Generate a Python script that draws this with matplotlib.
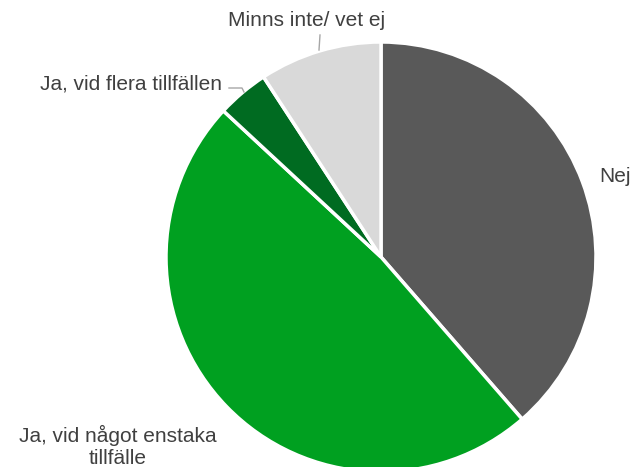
import matplotlib
matplotlib.use("Agg")
import matplotlib.pyplot as plt

categories = ["Nej", "Ja, vid något enstaka\ntillfälle", "Ja, vid flera tillfällen", "Minns inte/ vet ej"]
values = [38.6, 48.3, 3.9, 9.2]
colors = ["#595959", "#00A020", "#006B21", "#D9D9D9"]

W, H = 634, 467
fig = plt.figure(figsize=(W / 100, H / 100), dpi=100)
ax = fig.add_axes([0, 0, 1, 1])

cx, cy, r = 381, H - 257, 215
ax.pie(values, colors=colors, startangle=90, counterclock=False,
       center=(cx, cy), radius=r,
       wedgeprops=dict(edgecolor="white", linewidth=2.5), frame=True)
ax.set_xlim(0, W)
ax.set_ylim(0, H)
ax.set_aspect("equal")
ax.axis("off")

tc = "#404040"
fp = dict(family="Liberation Sans", fontsize=15, color=tc)
ax.text(631, H - 176, categories[0], ha="right", va="center", **fp)
ax.text(118, H - 446, categories[1], ha="center", va="center", linespacing=1.2, **fp)
ax.text(222, H - 84, categories[2], ha="right", va="center", **fp)
ax.text(307, H - 20, categories[3], ha="center", va="center", **fp)

lc = "#A6A6A6"
ax.plot([229, 242, 244], [H - 88, H - 88, H - 92], color=lc, lw=1)
ax.plot([320, 319], [H - 35, H - 50], color=lc, lw=1)

fig.savefig("out.png", dpi=100)
